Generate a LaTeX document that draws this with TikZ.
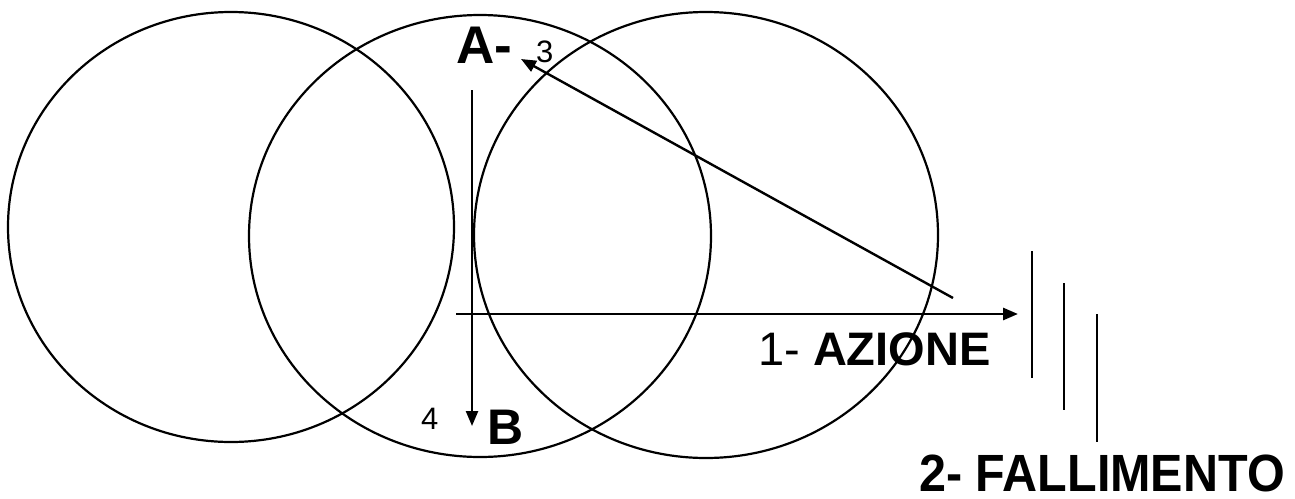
\documentclass[tikz,border=0pt]{standalone}
\usepackage{fontspec}
\setmainfont{Liberation Sans}
\usetikzlibrary{arrows.meta}
\begin{document}
\begin{tikzpicture}[x=1pt,y=-1pt,
  ring/.style={line width=2.2pt},
  conn/.style={line width=2.4pt,-{Triangle[length=15pt,width=12pt]}},
  bar/.style={line width=2.4pt},
  lbl/.style={inner sep=0pt,anchor=base west}]
\useasboundingbox (0,0) rectangle (1295,498);
% three circles
\draw[ring] (231,227) ellipse [x radius=223, y radius=215];
\draw[ring] (480,236) ellipse [x radius=231, y radius=221];
\draw[ring] (706,235) ellipse [x radius=232, y radius=223];
% labels
\node[lbl,font=\fontsize{53}{60}\selectfont\bfseries] (A) at (456,63) {A-};
\node[lbl,font=\fontsize{31}{36}\selectfont] (n3) at (536,62) {3};
\node[lbl,font=\fontsize{31}{36}\selectfont] (n4) at (421,429) {4};
\node[lbl,font=\fontsize{50}{58}\selectfont\bfseries] (B) at (487,444) {B};
\node[lbl,font=\fontsize{47}{54}\selectfont] (az) at (758,365) {1- \textbf{AZIONE}};
\node[lbl,font=\fontsize{48.5}{56}\selectfont\bfseries] (fa) at (919,491) {\scalebox{1}[1.08]{2- FALLIMENTO}};
% connector end points
\coordinate (vs) at (472,90);
\coordinate (ve) at (472,426);
\coordinate (hs) at (456,314);
\coordinate (he) at (1018,314);
\coordinate (ds) at (953,298);
\coordinate (de) at (521,59);
\draw[conn] (vs) -- (ve);
\draw[conn,line width=2.8pt] (hs) -- (he);
\draw[conn] (ds) -- (de);
% barrier lines
\coordinate (b1t) at (1032,251); \coordinate (b1b) at (1032,378);
\coordinate (b2t) at (1064,283); \coordinate (b2b) at (1064,410);
\coordinate (b3t) at (1097,314); \coordinate (b3b) at (1097,442);
\draw[bar] (b1t) -- (b1b);
\draw[bar] (b2t) -- (b2b);
\draw[bar] (b3t) -- (b3b);
\end{tikzpicture}
\end{document}
